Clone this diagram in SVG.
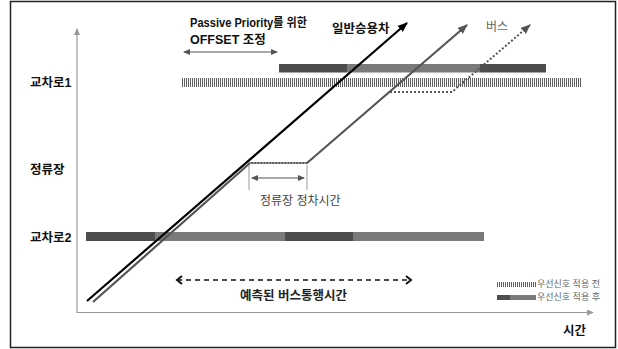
<svg xmlns="http://www.w3.org/2000/svg" width="618" height="349" viewBox="0 0 618 349">
<defs>
<marker id="arrBlack" markerWidth="10" markerHeight="8" refX="9" refY="4" orient="auto" markerUnits="userSpaceOnUse"><path d="M0,0 L10,4 L0,8 z" fill="#000"/></marker>
<marker id="arrGray" markerWidth="10" markerHeight="8" refX="9" refY="4" orient="auto" markerUnits="userSpaceOnUse"><path d="M0,0 L10,4 L0,8 z" fill="#555"/></marker>
<marker id="arrSmall" markerWidth="7" markerHeight="6" refX="6" refY="3" orient="auto-start-reverse" markerUnits="userSpaceOnUse"><path d="M0,0 L7,3 L0,6 z" fill="#555"/></marker>
<marker id="arrAxis" markerWidth="7" markerHeight="6" refX="6" refY="3" orient="auto" markerUnits="userSpaceOnUse"><path d="M0,0 L7,3 L0,6 z" fill="#999"/></marker>
<marker id="chev" markerWidth="8" markerHeight="10" refX="6" refY="5" orient="auto-start-reverse" markerUnits="userSpaceOnUse"><path d="M1,1 L6,5 L1,9" fill="none" stroke="#111" stroke-width="2"/></marker>
</defs>
<style>
text{font-family:"Liberation Sans","Noto Sans CJK KR",sans-serif;}
.lbl{font-size:12.5px;font-weight:bold;fill:#111;}
.gray{font-size:12px;fill:#444;}
.leg{font-size:9px;fill:#666;}
.dark{fill:#4d4d4d;}
.light{fill:#7a7a7a;}
.hatch{stroke:#5e5e5e;stroke-dasharray:1 1;fill:none;}
</style>
<rect x="10.5" y="1.5" width="605" height="346" fill="#fff" stroke="#222" stroke-width="1.5"/>
<g id="axes">
<line x1="77" y1="313" x2="77" y2="29" stroke="#999" stroke-width="1.2" marker-end="url(#arrAxis)"/>
<line x1="77" y1="312.5" x2="593" y2="312.5" stroke="#999" stroke-width="1.2" marker-end="url(#arrAxis)"/>
</g>
<g id="labels">
<text class="lbl" x="30" y="86.5">교차로1</text>
<text class="lbl" x="30" y="173.5">정류장</text>
<text class="lbl" x="30" y="241.5">교차로2</text>
<text class="lbl" x="563" y="335">시간</text>
</g>
<g id="intersection1">
<line class="hatch" x1="182" y1="82.5" x2="581" y2="82.5" stroke-width="9"/>
<rect class="dark" x="279" y="64" width="68" height="8.5"/>
<rect class="light" x="347" y="64" width="133" height="8.5"/>
<rect class="dark" x="480" y="64" width="66" height="8.5"/>
</g>
<g id="intersection2">
<rect class="dark" x="86" y="232" width="69" height="9"/>
<rect class="light" x="155" y="232" width="130" height="9"/>
<rect class="dark" x="285" y="232" width="68" height="9"/>
<rect class="light" x="353" y="232" width="131" height="9"/>
</g>
<g id="connectors">
<line x1="87" y1="301" x2="407" y2="23" stroke="#000" stroke-width="2.2" marker-end="url(#arrBlack)"/>
<polyline points="93,302 250,163 307,163 467,25" fill="none" stroke="#555" stroke-width="2.2" marker-end="url(#arrGray)"/>
<line x1="250" y1="163" x2="307" y2="163" stroke="#999" stroke-width="2" stroke-dasharray="1.5 1.5"/>
<polyline points="390,92 452,92 530,25" fill="none" stroke="#555" stroke-width="2" stroke-dasharray="2 2" marker-end="url(#arrGray)"/>
</g>
<g id="offset">
<line x1="184" y1="52" x2="277" y2="52" stroke="#555" stroke-width="1.2" marker-start="url(#arrSmall)" marker-end="url(#arrSmall)"/>
<text class="lbl" x="190" y="27" font-size="11.5" textLength="117" lengthAdjust="spacingAndGlyphs">Passive Priority를 위한</text>
<text class="lbl" x="190" y="44">OFFSET 조정</text>
</g>
<g id="vehicleLabels">
<text class="lbl" x="332" y="32.5">일반승용차</text>
<text x="486" y="31" style="font-size:12px;fill:#666;">버스</text>
</g>
<g id="dwell">
<line x1="249" y1="165" x2="249" y2="190" stroke="#999" stroke-width="1"/>
<line x1="307" y1="165" x2="307" y2="190" stroke="#999" stroke-width="1"/>
<line x1="252" y1="178" x2="304" y2="178" stroke="#555" stroke-width="1.2" marker-start="url(#arrSmall)" marker-end="url(#arrSmall)"/>
<text class="gray" x="260" y="204.5">정류장 정차시간</text>
</g>
<g id="travelTime">
<line x1="177" y1="280" x2="411" y2="280" stroke="#111" stroke-width="1.5" stroke-dasharray="5 4" marker-start="url(#chev)" marker-end="url(#chev)"/>
<text class="lbl" x="240" y="299.5" style="fill:#222;">예측된 버스통행시간</text>
</g>
<g id="legend">
<line class="hatch" x1="497" y1="284.5" x2="536" y2="284.5" stroke-width="5"/>
<text class="leg" x="537" y="287.3">우선신호 적용 전</text>
<rect class="dark" x="497" y="295" width="13" height="5"/>
<rect class="light" x="510" y="295" width="26" height="5"/>
<text class="leg" x="537" y="300.3">우선신호 적용 후</text>
</g>
</svg>
